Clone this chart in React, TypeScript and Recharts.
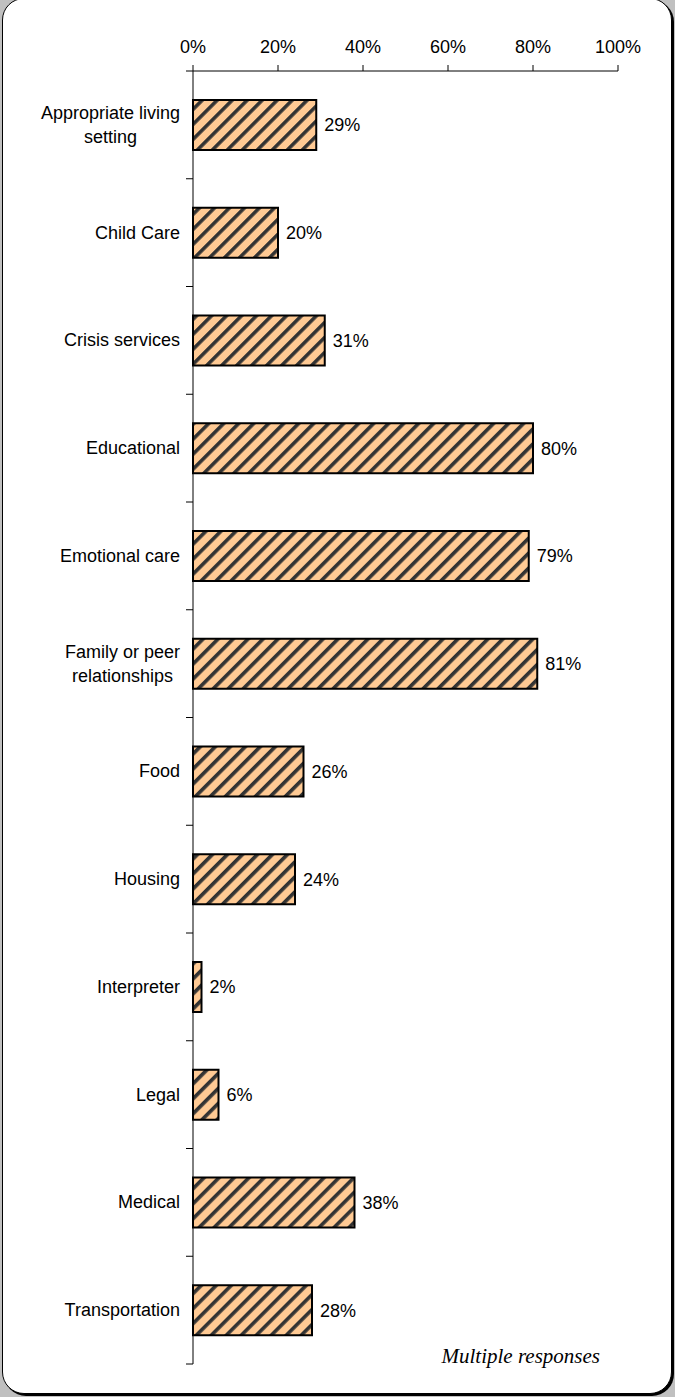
import React from 'react';
import {BarChart, Bar, XAxis, YAxis, LabelList} from 'recharts';

const categories = [
    'Appropriate living setting',
    'Child Care',
    'Crisis services',
    'Educational',
    'Emotional care',
    'Family or peer relationships',
    'Food',
    'Housing',
    'Interpreter',
    'Legal',
    'Medical',
    'Transportation',
];
const shares = [29, 20, 31, 80, 79, 81, 26, 24, 2, 6, 38, 28];
const xTicks = [0, 20, 40, 60, 80, 100];

const data = categories.map((name, i) => ({name, value: shares[i]}));

// layout constants
const W = 675;
const H = 1397;
const PLOT_LEFT = 193;
const PLOT_TOP = 71;
const PLOT_BOTTOM = 1364;
const BAND = (PLOT_BOTTOM - PLOT_TOP) / categories.length;
const FONT = '"Liberation Sans", Arial, sans-serif';

let ctx: CanvasRenderingContext2D | null = null;
const measure = (s: string) => {
    if (!ctx) {
        ctx = document.createElement('canvas').getContext('2d');
    }
    if (!ctx) return s.length * 9;
    ctx.font = `18px ${FONT}`;
    return ctx.measureText(s).width;
};

// wrap long names the way the original label box does
const wrap = (s: string, max = 18) => {
    const words = s.split(' ');
    const lines: string[] = [];
    let cur = '';
    words.forEach(w => {
        const next = cur ? cur + ' ' + w : w;
        if (next.length > max && cur) {
            lines.push(cur);
            cur = w;
        } else {
            cur = next;
        }
    });
    if (cur) lines.push(cur);
    return lines;
};

const CategoryTick = (props: any) => {
    const {y, payload, index} = props;
    const lines = wrap(String(payload.value));
    const maxW = Math.max(...lines.map(measure));
    const cx = 180 - maxW / 2;
    const lh = 24;
    const first = y - ((lines.length - 1) * lh) / 2;
    const top = y - BAND / 2;
    return (
        <g>
            <line x1={PLOT_LEFT - 7} x2={PLOT_LEFT} y1={top} y2={top} stroke="#000" strokeWidth={1}/>
            {index === categories.length - 1 && (
                <line x1={PLOT_LEFT - 7} x2={PLOT_LEFT} y1={y + BAND / 2} y2={y + BAND / 2} stroke="#000"
                      strokeWidth={1}/>
            )}
            <text x={cx} y={first} textAnchor="middle" dominantBaseline="central" fontSize={18}
                  fontFamily={FONT} fill="#000">
                {lines.map((l, i) => (
                    <tspan key={i} x={cx} y={first + i * lh}>{l}</tspan>
                ))}
            </text>
        </g>
    );
};

export default function App() {
    return (
        <div style={{position: 'absolute', left: 0, top: 0, width: W, height: H, background: '#c0c0c0', overflow: 'hidden'}}>
            <div style={{
                position: 'absolute', left: 2, top: -2, width: 668, height: 1394,
                background: '#fff', border: '1.5px solid #000', borderRadius: 22,
                boxShadow: '2px 2px 0 #000',
            }}/>
            <svg width={0} height={0} style={{position: 'absolute'}}>
                <defs>
                    <pattern id="hatch" patternUnits="userSpaceOnUse" width={10.6} height={10.6}
                             patternTransform="rotate(45)">
                        <rect x={0} y={0} width={10.6} height={10.6} fill="#ffca94"/>
                        <rect x={0} y={0} width={3.6} height={10.6} fill="#333"/>
                    </pattern>
                </defs>
            </svg>
            <div style={{position: 'absolute', left: 0, top: 0}}>
                <BarChart
                    width={W}
                    height={H}
                    data={data}
                    layout="vertical"
                    margin={{top: 41, right: 57, left: 0, bottom: H - PLOT_BOTTOM}}
                    barCategoryGap={0}
                >
                    <XAxis
                        type="number"
                        orientation="top"
                        domain={[0, 100]}
                        ticks={xTicks}
                        tickFormatter={(v: number) => `${v}%`}
                        height={30}
                        axisLine={{stroke: '#000'}}
                        tickLine={{stroke: '#000'}}
                        tickSize={6}
                        tickMargin={12}
                        tick={{fill: '#000', fontSize: 18, fontFamily: FONT}}
                        interval={0}
                    />
                    <YAxis
                        type="category"
                        dataKey="name"
                        width={PLOT_LEFT}
                        axisLine={{stroke: '#000'}}
                        tickLine={false}
                        tick={<CategoryTick/>}
                        interval={0}
                    />
                    <Bar dataKey="value" barSize={50} fill="url(#hatch)" stroke="#000" strokeWidth={2}
                         isAnimationActive={false}>
                        <LabelList dataKey="value" position="right" offset={8}
                                   formatter={(v: any) => `${v}%`}
                                   style={{fill: '#000', fontSize: 18, fontFamily: FONT}}/>
                    </Bar>
                </BarChart>
            </div>
            <div style={{
                position: 'absolute', right: 75, top: 1344, fontFamily: '"Liberation Serif", "Times New Roman", serif',
                fontStyle: 'italic', fontSize: 21, color: '#000', whiteSpace: 'nowrap',
            }}>
                Multiple responses
            </div>
        </div>
    );
}
